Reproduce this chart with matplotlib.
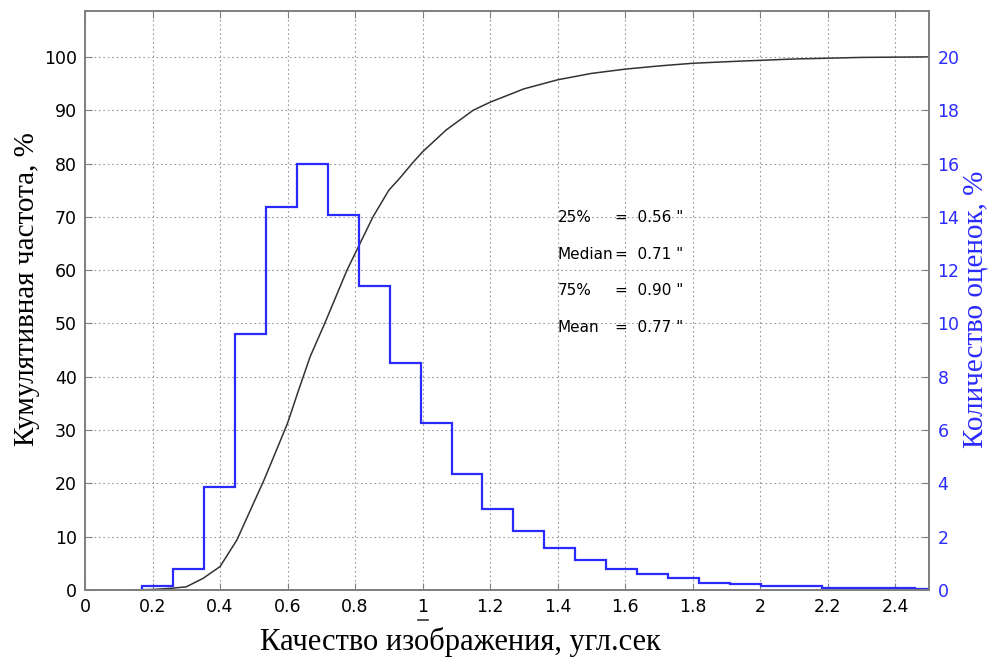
import matplotlib
matplotlib.use('Agg')
import matplotlib.pyplot as plt
import numpy as np

# histogram of seeing estimates, % of all (right axis)
BIN_EDGES = [0.17, 0.262, 0.353, 0.445, 0.536, 0.628, 0.72, 0.811, 0.903, 0.994,
             1.086, 1.177, 1.269, 1.360, 1.452, 1.543, 1.635, 1.726, 1.818, 1.909,
             2.001, 2.092, 2.184, 2.275, 2.367, 2.458, 2.55]
BIN_PERCENT = [0.15, 0.8, 3.85, 9.6, 14.35, 16.0, 14.05, 11.4, 8.5, 6.27,
               4.35, 3.05, 2.2, 1.57, 1.13, 0.79, 0.6, 0.44, 0.28, 0.24,
               0.16, 0.14, 0.08, 0.07, 0.06, 0.05]

# cumulative frequency curve, % (left axis)
CUM_X = [0.12, 0.20, 0.25, 0.30, 0.35, 0.40, 0.45, 0.49, 0.53, 0.555, 0.60, 0.63,
         0.667, 0.71, 0.776, 0.853, 0.90, 0.933, 0.97, 1.00, 1.07, 1.15, 1.20,
         1.30, 1.40, 1.50, 1.60, 1.70, 1.80, 1.94, 2.10, 2.30, 2.50]
CUM_Y = [0, 0.1, 0.3, 0.6, 2.2, 4.4, 9.4, 15, 20.6, 24.4, 31.3, 37,
         43.8, 50, 60, 70, 75, 77.3, 80.1, 82.2, 86.3, 90, 91.5,
         94, 95.7, 96.9, 97.7, 98.3, 98.8, 99.2, 99.6, 99.9, 100]

STAT_NAMES = ['25%', 'Median', '75%', 'Mean']
STAT_VALUES = ['0.56', '0.71', '0.90', '0.77']

X_TICKS = [0, 0.2, 0.4, 0.6, 0.8, 1, 1.2, 1.4, 1.6, 1.8, 2, 2.2, 2.4]
X_TICK_LABELS = ['0', '0.2', '0.4', '0.6', '0.8', '1', '1.2', '1.4', '1.6', '1.8', '2', '2.2', '2.4']
LEFT_TICKS = list(range(0, 101, 10))
RIGHT_TICKS = list(range(0, 21, 2))

BLUE = '#2a2aff'
SPINE = '#808080'

plt.rcParams['font.family'] = ['DejaVu Sans']

fig = plt.figure(figsize=(9.93, 6.64), dpi=100)
ax = fig.add_axes([0.0856, 0.1114, 0.85, 0.872])
ax2 = ax.twinx()

ax.plot(CUM_X, CUM_Y, color='#333333', linewidth=1.1, zorder=3)
ax2.stairs(BIN_PERCENT, BIN_EDGES, baseline=0, color=BLUE, linewidth=1.6)

ax.set_xlim(0, 2.5)
ax.set_ylim(0, 108.6)
ax2.set_ylim(0, 21.72)

ax.set_xticks(X_TICKS)
ax.set_xticklabels(X_TICK_LABELS)
ax.set_yticks(LEFT_TICKS)
ax2.set_yticks(RIGHT_TICKS)

ax.grid(True, linestyle=(0, (1.5, 2.5)), color='#9a9a9a', linewidth=0.8)

ax.tick_params(axis='both', direction='in', length=5, color=SPINE, labelsize=12.5,
               top=True, pad=6)
ax2.tick_params(axis='y', direction='in', length=5, color=SPINE, labelsize=12.5,
                labelcolor=BLUE, pad=6)
for a in (ax, ax2):
    for s in a.spines.values():
        s.set_color(SPINE)
        s.set_linewidth(1.3)

ax.set_xlabel('Качество изображения, угл.сек', fontfamily='Liberation Serif', fontsize=22)
ax.xaxis.set_label_coords(0.445, -0.063)
ax.set_ylabel('Кумулятивная частота, %', fontfamily='Liberation Serif', fontsize=21)
ax.yaxis.set_label_coords(-0.053, 0.52)
ax2.set_ylabel('Количество оценок, %', fontfamily='Liberation Serif',
               fontsize=21, color=BLUE)
ax2.yaxis.set_label_coords(1.04, 0.484)

# stats block
for i, (name, val) in enumerate(zip(STAT_NAMES, STAT_VALUES)):
    y = 69.8 - i * 6.85
    ax.text(1.40, y, name, fontsize=11, va='center', ha='left')
    ax.text(1.57, y, '=  ' + val + ' "', fontsize=11, va='center', ha='left')

# small stray dash under the "1" tick label
ax.plot([0.985, 1.015], [-0.052, -0.052], transform=ax.get_xaxis_transform(),
        color='#333333', linewidth=1.2, clip_on=False)

fig.savefig('out.png', dpi=100)
